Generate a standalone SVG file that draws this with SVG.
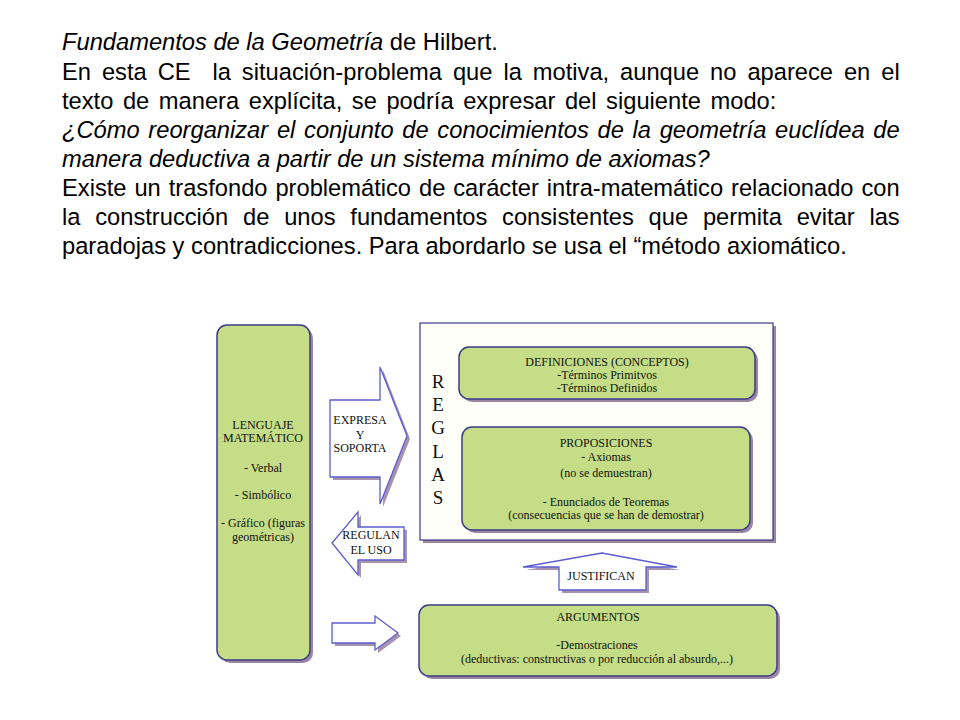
<svg xmlns="http://www.w3.org/2000/svg" width="960" height="720" viewBox="0 0 960 720">
<style>
.p{font-family:"Liberation Sans",Arial,sans-serif;font-size:23.7px;fill:#000}
.it{font-style:italic}
.d{font-family:"Liberation Serif","Times New Roman",serif;font-size:12px;fill:#111;text-anchor:middle}
.rg{font-family:"Liberation Serif","Times New Roman",serif;font-size:19px;fill:#111;text-anchor:middle}
.gb{fill:#c4dd86;stroke:#3c3c86;stroke-width:1.5}
.sh{fill:#9a86a2}
.ar{fill:#ffffff;stroke:#5c5cd0;stroke-width:1.3;stroke-linejoin:miter}
.ash{fill:#a694ae}
</style>
<rect width="960" height="720" fill="#ffffff"/>
<g id="texto">
<text class="p" x="62" y="50"><tspan class="it">Fundamentos de la Geometría</tspan> de Hilbert.</text>
<text class="p" x="62" y="80" style="white-space:pre" word-spacing="4.37">En esta CE  la situación-problema que la motiva, aunque no aparece en el</text>
<text class="p" x="62" y="109" word-spacing="3">texto de manera explícita, se podría expresar del siguiente modo:</text>
<text class="p it" x="62" y="138" word-spacing="2.13">¿Cómo reorganizar el conjunto de conocimientos de la geometría euclídea de</text>
<text class="p it" x="62" y="167">manera deductiva a partir de un sistema mínimo de axiomas?</text>
<text class="p" x="62" y="196" word-spacing="1.35">Existe un trasfondo problemático de carácter intra-matemático relacionado con</text>
<text class="p" x="62" y="225" word-spacing="8.22">la construcción de unos fundamentos consistentes que permita evitar las</text>
<text class="p" x="62" y="254">paradojas y contradicciones. Para abordarlo se usa el “método axiomático.</text>
</g>
<g id="lenguaje">
<rect class="sh" x="220" y="328" width="93" height="335" rx="10"/>
<rect class="gb" x="217" y="325" width="93" height="335" rx="10"/>
<text class="d" x="263" y="429">LENGUAJE</text>
<text class="d" x="263" y="442">MATEMÁTICO</text>
<text class="d" x="263" y="472">- Verbal</text>
<text class="d" x="263" y="499">- Simbólico</text>
<text class="d" x="263" y="527">- Gráfico (figuras</text>
<text class="d" x="263" y="541">geométricas)</text>
</g>
<g id="reglas">
<rect class="sh" x="423" y="326" width="353" height="217"/>
<rect x="420" y="323" width="353" height="217" fill="#fffffa" stroke="#3a3a88" stroke-width="1.2"/>
<text class="rg" x="438" y="388">R</text>
<text class="rg" x="438" y="411">E</text>
<text class="rg" x="438" y="434">G</text>
<text class="rg" x="438" y="458">L</text>
<text class="rg" x="438" y="481">A</text>
<text class="rg" x="438" y="504">S</text>
</g>
<g id="definiciones">
<rect class="sh" x="462" y="350" width="296" height="52" rx="10"/>
<rect class="gb" x="459" y="347" width="296" height="52" rx="10"/>
<text class="d" x="607" y="366">DEFINICIONES (CONCEPTOS)</text>
<text class="d" x="607" y="379">-Términos Primitvos</text>
<text class="d" x="607" y="392">-Términos Definidos</text>
</g>
<g id="proposiciones">
<rect class="sh" x="465" y="430" width="288" height="103" rx="10"/>
<rect class="gb" x="462" y="427" width="288" height="103" rx="10"/>
<text class="d" x="606" y="447">PROPOSICIONES</text>
<text class="d" x="606" y="461">- Axiomas</text>
<text class="d" x="606" y="477">(no se demuestran)</text>
<text class="d" x="606" y="506">- Enunciados de Teoremas</text>
<text class="d" x="606" y="519">(consecuencias que se han de demostrar)</text>
</g>
<g id="argumentos">
<rect class="sh" x="422" y="608" width="358" height="71" rx="10"/>
<rect class="gb" x="419" y="605" width="358" height="71" rx="10"/>
<text class="d" x="598" y="621">ARGUMENTOS</text>
<text class="d" x="597" y="649">-Demostraciones</text>
<text class="d" x="597" y="663">(deductivas: constructivas o por reducción al absurdo,...)</text>
</g>
<g id="connectors">
<g id="expresa">
<polygon class="ash" points="333,403 383,403 383,370 410,439 383,507 383,480 333,480"/>
<polygon class="ar" points="330,400 380,400 380,367 407,436 380,504 380,477 330,477"/>
<text class="d" x="360" y="424">EXPRESA</text>
<text class="d" x="360" y="439">Y</text>
<text class="d" x="360" y="452">SOPORTA</text>
</g>
<g id="regulan">
<polygon class="ash" points="407,530 361,530 361,515 335,546 361,578 361,563 407,563"/>
<polygon class="ar" points="404,527 358,527 358,512 332,543 358,575 358,560 404,560"/>
<text class="d" x="371" y="539">REGULAN</text>
<text class="d" x="371" y="554">EL USO</text>
</g>
<g id="justifican">
<polygon class="ash" points="562,593 562,570 526,570 605,556 680,570 649,570 649,593"/>
<polygon class="ar" points="559,590 559,567 523,567 602,553 677,567 646,567 646,590"/>
<text class="d" x="601" y="580">JUSTIFICAN</text>
</g>
<g id="flecha-argumentos">
<polygon class="ash" points="335,626 378,626 378,619 401,636 378,653 378,646 335,646"/>
<polygon class="ar" points="332,623 375,623 375,616 398,633 375,650 375,643 332,643"/>
</g>
</g>
</svg>
